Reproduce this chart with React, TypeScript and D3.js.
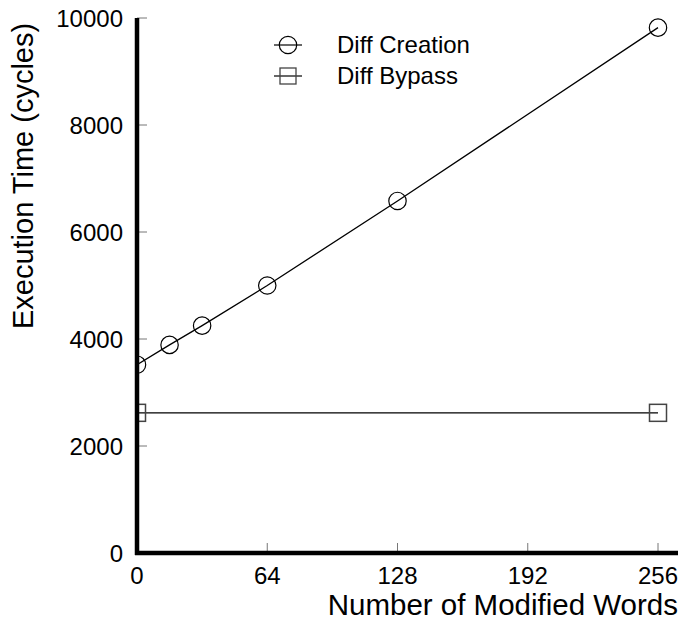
import React from "react";
import * as d3 from "d3";

const creationX = [0, 16, 32, 64, 128, 256];
const creationY = [3520, 3890, 4250, 5000, 6580, 9820];
const bypassX = [0, 256];
const bypassY = [2620, 2620];
const xTicks = [0, 64, 128, 192, 256];
const yTicks = [0, 2000, 4000, 6000, 8000, 10000];
const seriesNames = ["Diff Creation", "Diff Bypass"];

export default function App() {
  const W = 681, H = 625;
  const x = d3.scaleLinear().domain([0, 256]).range([137, 658]);
  const y = d3.scaleLinear().domain([0, 10000]).range([553, 18]);
  const line = d3.line<[number, number]>().x(d => x(d[0])).y(d => y(d[1]));
  const cData: [number, number][] = creationX.map((v, i) => [v, creationY[i]]);
  const bData: [number, number][] = bypassX.map((v, i) => [v, bypassY[i]]);
  const font = "Liberation Sans, Arial, sans-serif";
  return (
    <svg width={W} height={H} style={{ position: "absolute", left: 0, top: 0, background: "#fff" }} fontFamily={font}>
      <defs>
        <clipPath id="plot">
          <rect x={x(0)} y={0} width={x(256) - x(0) + 30} height={y(0)} />
        </clipPath>
      </defs>
      <g clipPath="url(#plot)">
        <path d={line(cData) || ""} fill="none" stroke="#000" strokeWidth={1.3} />
        <path d={line(bData) || ""} fill="none" stroke="#000" strokeWidth={1.3} />
        {cData.map((d, i) => (
          <circle key={i} cx={x(d[0])} cy={y(d[1])} r={8.7} fill="none" stroke="#000" strokeWidth={1.2} />
        ))}
        {bData.map((d, i) => (
          <rect key={i} x={x(d[0]) - 8.5} y={y(d[1]) - 8.5} width={17} height={17} fill="none" stroke="#444" strokeWidth={1.5} />
        ))}
      </g>
      {/* ticks */}
      {xTicks.slice(1).map(t => (
        <line key={t} x1={x(t)} x2={x(t)} y1={y(0)} y2={y(0) - 10} stroke="#777" strokeWidth={1} />
      ))}
      {yTicks.slice(1).map(t => (
        <line key={t} x1={x(0)} x2={x(0) + 10} y1={y(t)} y2={y(t)} stroke="#777" strokeWidth={1} />
      ))}
      {/* axes */}
      <line x1={x(0)} x2={x(0)} y1={y(10000)} y2={y(0) + 2} stroke="#000" strokeWidth={4.5} />
      <line x1={x(0) - 2} x2={678} y1={y(0)} y2={y(0)} stroke="#000" strokeWidth={4.5} />
      {/* tick labels */}
      {xTicks.map(t => (
        <text key={t} x={x(t)} y={584} fontSize={24} textAnchor="middle">{t}</text>
      ))}
      {yTicks.map(t => (
        <text key={t} x={123} y={y(t) + 8.5} fontSize={24} textAnchor="end">{t}</text>
      ))}
      <text x={678} y={615} fontSize={29.5} textAnchor="end">Number of Modified Words</text>
      <text transform={`translate(33,176) rotate(-90)`} fontSize={29} textAnchor="middle">Execution Time (cycles)</text>
      {/* legend */}
      <g>
        <line x1={274} x2={302} y1={45} y2={45} stroke="#000" strokeWidth={1.2} />
        <circle cx={288} cy={45} r={8.7} fill="none" stroke="#000" strokeWidth={1.2} />
        <text x={337} y={53} fontSize={24}>{seriesNames[0]}</text>
        <line x1={274} x2={302} y1={76} y2={76} stroke="#000" strokeWidth={1.2} />
        <rect x={280} y={68} width={16} height={16} fill="none" stroke="#444" strokeWidth={1.3} />
        <text x={337} y={84} fontSize={24}>{seriesNames[1]}</text>
      </g>
    </svg>
  );
}
